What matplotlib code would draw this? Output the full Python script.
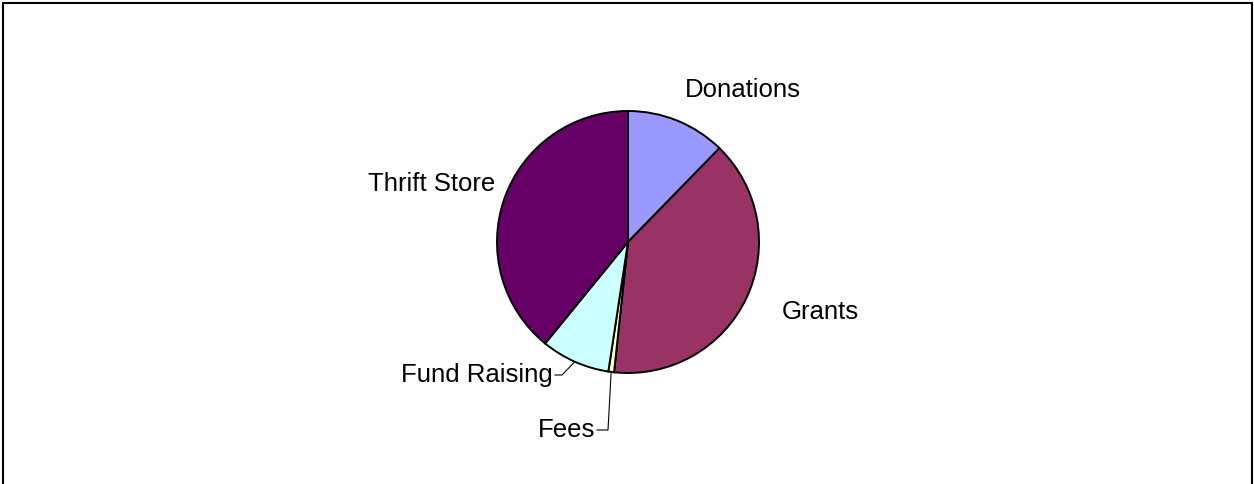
import numpy as np
import matplotlib
matplotlib.use('Agg')
import matplotlib.pyplot as plt
from matplotlib.patches import Rectangle

# 数据
labels = ['Donations', 'Grants', 'Fees', 'Fund Raising', 'Thrift Store']
values = [12.3, 39.4, 0.7, 8.5, 39.1]
colors = ['#9999FF', '#993366', '#FFFFCC', '#CCFFFF', '#660066']

W, H = 1254, 484
plt.rcParams['font.family'] = ['Liberation Sans', 'DejaVu Sans']

fig = plt.figure(figsize=(W / 100, H / 100), dpi=100)
ax = fig.add_axes([0, 0, 1, 1])

# 饼图 (像素坐标, y 向上)
cx, cy, r = 628, H - 242, 131
wedges, _ = ax.pie(values, colors=colors, startangle=90, counterclock=False,
                   center=(cx, cy), radius=r, frame=True,
                   wedgeprops=dict(edgecolor='black', linewidth=1.4))
ax.set_xlim(0, W)
ax.set_ylim(0, H)
ax.axis('off')

# 标签
fs = 18.5
ax.text(685, H - 90, 'Donations', fontsize=fs, ha='left', va='center')
ax.text(782, H - 312, 'Grants', fontsize=fs, ha='left', va='center')
ax.text(495, H - 184, 'Thrift Store', fontsize=fs, ha='right', va='center')
ax.text(553, H - 375, 'Fund Raising', fontsize=fs, ha='right', va='center')
ax.text(595, H - 430, 'Fees', fontsize=fs, ha='right', va='center')


def edge_point(idx):
    # 楔形中点角度 (顺时针, 从正上方开始)
    start = sum(values[:idx]) / sum(values) * 360
    mid = start + values[idx] / sum(values) * 360 / 2
    a = np.radians(mid)
    return cx + r * np.sin(a), cy + r * np.cos(a)


# 引导线
fx, fy = edge_point(3)
ax.plot([555, 562, fx], [H - 375, H - 375, fy], color='black', lw=0.8)
ex, ey = edge_point(2)
ax.plot([597, 608, ex], [H - 430, H - 430, ey], color='black', lw=0.8)

# 外框
fig.patches.append(Rectangle((2.5 / W, -0.1), (W - 5) / W, 1.1 - 3 / H,
                             transform=fig.transFigure, fill=False,
                             edgecolor='black', linewidth=1.5))

fig.savefig('out.png', dpi=100)
